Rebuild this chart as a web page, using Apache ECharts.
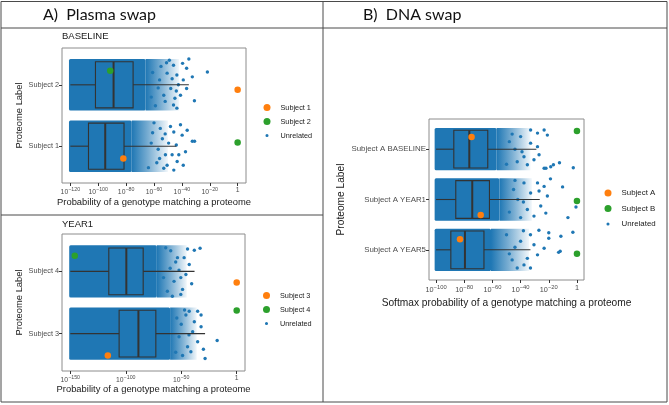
<!DOCTYPE html>
<html><head><meta charset="utf-8">
<script src="https://cdn.jsdelivr.net/npm/echarts@6/dist/echarts.min.js"></script>
<style>html,body{margin:0;padding:0;background:#fff}#c{width:669px;height:405px}</style>
</head><body><div id="c"></div>
<script>
// ---------- Panel A / BASELINE ----------
const a1Categories = ['Subject 1', 'Subject 2'];
const a1XTicks = [-120, -100, -80, -60, -40, -20, 0];
// [whiskerLow, Q1, median, Q3, whiskerHigh] (log10 probability)
const a1Box = [[-120, -107, -95, -81.5, -44], [-120, -102, -89, -75, -35]];
// unrelated cloud: [left, dense edge, fade edge]
const a1Cloud = [[-121, -76, -50], [-121, -66, -42]];
// sparse unrelated points: [log10 p, row + jitter]
const a1Tail = [
  [-41, 0.35], [-36.2, 0.26], [-32.5, 0.08], [-30.9, 0.08], [-39.8, 0.18], [-45.8, 0.23], [-47, -0.14],
  [-43.4, -0.25], [-50.6, -0.31], [-53, -0.36], [-48.2, 0.32], [-37.4, -0.09], [-49.5, 0.05], [-42.2, -0.14],
  [-55.5, 0.29], [-51.8, -0.14], [-45.8, -0.39], [-39, -0.31], [-57, -0.05], [-60, 0.38], [-54, 0.12],
  [-58, -0.27], [-52, 0.2], [-62, 0.05], [-64, -0.35], [-61, 0.22], [-56, -0.2], [-44, 0.02],
  [-35, 1.42], [-21.7, 1.21], [-31, 0.74], [-39.5, 1.35], [-46, 1.32], [-43.6, 1.16], [-48, 0.94],
  [-41, 0.83], [-46, 0.67], [-52, 0.73], [-39, 1.08], [-49, 1.4], [-36.6, 1.27], [-42.5, 1.0],
  [-32.5, 1.13], [-50.6, 1.19], [-53, 0.83], [-36.6, 0.94], [-43.6, 0.62], [-55, 1.3], [-57, 0.95],
  [-47, 1.1], [-59, 0.66], [-45, 0.78], [-61, 1.2], [-62, 0.8], [-56, 1.08], [-51, 1.36], [-44, 0.9]
];
const a1Subject1 = [[-82, -0.2], [0, 0.92]];
const a1Subject2 = [[0, 0.06], [-91.4, 1.23]];

// ---------- Panel A / YEAR1 ----------
const a2Categories = ['Subject 3', 'Subject 4'];
const a2XTicks = [-150, -100, -50, 0];
const a2Box = [[-150, -106, -88.6, -72.9, -28.5], [-150, -115.3, -99.5, -84.3, -38]];
const a2Cloud = [[-151, -60, -36], [-151, -72, -45]];
const a2Tail = [
  [-17.6, -0.11], [-28.5, -0.4], [-32.1, 0.3], [-35.2, 0.36], [-38.2, 0.19], [-41.3, -0.29], [-35.2, -0.13],
  [-44.3, -0.21], [-39.7, 0.03], [-45.8, 0.3], [-48.8, -0.35], [-32.1, 0.11], [-42.8, 0.36], [-30, -0.25],
  [-50, 0.15], [-52, -0.05], [-47, 0.38], [-55, -0.3], [-54, 0.25], [-43, -0.02],
  [-33, 1.37], [-38.2, 1.34], [-44.3, 1.36], [-40.6, 0.8], [-48.8, 0.71], [-45.8, 0.95], [-53.4, 1.22],
  [-42.8, 1.11], [-50.4, 0.63], [-56.5, 0.84], [-59.5, 1.33], [-47.4, 1.22], [-62.5, 0.68], [-50.4, 0.9],
  [-60, 1.05], [-55, 1.15], [-64, 1.38], [-66, 0.9], [-58, 0.6], [-52, 1.02]
];
const a2Subject3 = [[-116.2, -0.35], [0, 0.82]];
const a2Subject4 = [[0, 0.37], [-146, 1.25]];

// ---------- Panel B / DNA swap ----------
const bCategories = ['Subject A YEAR5', 'Subject A YEAR1', 'Subject A BASELINE'];
const bXTicks = [-100, -80, -60, -40, -20, 0];
const bBox = [[-100, -89.5, -79.5, -66, -33], [-100, -86, -74.3, -62.1, -26.4], [-100, -87.4, -76.4, -63.3, -28.8]];
const bCloud = [[-101, -61, -34], [-101, -55, -32], [-101, -57, -33]];
const bTail = [
  [-27, 0.39], [-20, 0.34], [-11.4, 0.27], [-2.9, 0.35], [-13, -0.05], [-20, 0.23], [-33, 0.3], [-30.5, 0.1],
  [-35.2, -0.17], [-28, -0.1], [-37.6, -0.3], [-33, -0.36], [-40, 0.17], [-23.3, 0.03], [-42.4, -0.36], [-11.9, -0.03],
  [-44, 0.05], [-46, -0.2], [-38, 0.38], [-50, 0.3], [-48, -0.08],
  [-10.2, 1.25], [-0.7, 0.85], [-6.4, 0.64], [-18.8, 1.41], [-23.3, 1.26], [-21, 1.07], [-25.7, 0.87], [-22.1, 0.73],
  [-28, 1.33], [-30.5, 0.67], [-32.9, 1.13], [-37.6, 1.33], [-35.2, 0.8], [-40, 0.64], [-26.9, 1.17],
  [-42, 1.0], [-45, 1.2], [-38, 0.95], [-48, 0.75], [-44, 1.38],
  [-18.6, 1.65], [-12.4, 1.73], [-2.6, 1.63], [-23.3, 1.62], [-21, 2.28], [-23.3, 2.38], [-28, 2.32], [-32.9, 2.38],
  [-26.9, 1.89], [-30.5, 1.79], [-32.9, 2.12], [-37.6, 1.85], [-28, 2.05], [-35.2, 1.69], [-40, 2.25], [-42.4, 1.75],
  [-22, 1.62], [-16.7, 1.69], [-44, 2.0], [-46, 2.3], [-39, 1.95], [-50, 1.7], [-48, 2.15]
];
const bSubjectA = [[-83, 0.21], [-68.3, 0.69], [-74.8, 2.24]];
const bSubjectB = [[0, -0.08], [0, 0.97], [0, 2.36]];

// ---------- drawing ----------
const BLUE = '#1f77b4', ORANGE = '#ff7f0e', GREEN = '#2ca02c';
const FONT = '"Liberation Sans", Arial, sans-serif';
const smallDot = 'path://M0,0M10,10M5,2.8A2.2,2.2,0,1,1,5,7.2A2.2,2.2,0,1,1,5,2.8Z';

function renderCloud(params, api) {
  const y = api.value(0), l = api.value(1), d = api.value(2), f = api.value(3);
  const p0 = api.coord([l, y + 0.42]), p1 = api.coord([d, y - 0.42]), p2 = api.coord([f, y - 0.42]);
  return { type: 'group', children: [
    { type: 'rect', shape: { x: p0[0], y: p0[1], width: p1[0] - p0[0], height: p1[1] - p0[1], r: 1.5 }, style: { fill: BLUE } },
    { type: 'rect', shape: { x: p1[0], y: p0[1], width: p2[0] - p1[0], height: p1[1] - p0[1] },
      style: { fill: { type: 'linear', x: 0, y: 0, x2: 1, y2: 0, colorStops: [
        { offset: 0, color: BLUE }, { offset: 0.45, color: 'rgba(31,119,180,0.6)' }, { offset: 1, color: 'rgba(31,119,180,0.06)' }] } } }
  ] };
}
function renderBox(params, api) {
  const y = api.value(0), lo = api.value(1), q1 = api.value(2), md = api.value(3), q3 = api.value(4), hi = api.value(5);
  const h = 0.375;
  const a = api.coord([q1, y + h]), b = api.coord([q3, y - h]);
  const m0 = api.coord([md, y + h]), m1 = api.coord([md, y - h]);
  const w0 = api.coord([lo, y]), w1 = api.coord([q1, y]), w2 = api.coord([q3, y]), w3 = api.coord([hi, y]);
  return { type: 'group', children: [
    { type: 'line', shape: { x1: w0[0], y1: w0[1], x2: w1[0], y2: w1[1] }, style: { stroke: '#333333', lineWidth: 1.1 } },
    { type: 'line', shape: { x1: w2[0], y1: w2[1], x2: w3[0], y2: w3[1] }, style: { stroke: '#333333', lineWidth: 1.1 } },
    { type: 'rect', shape: { x: a[0], y: a[1], width: b[0] - a[0], height: b[1] - a[1] }, style: { stroke: '#333333', fill: 'none', lineWidth: 1.1 } },
    { type: 'line', shape: { x1: m0[0], y1: m0[1], x2: m1[0], y2: m1[1] }, style: { stroke: '#333333', lineWidth: 2 } }
  ] };
}

function xAxisFor(idx, min, max, ticks, name, gap, fs, tfs) {
  return {
    type: 'value', gridIndex: idx, min: min, max: max,
    axisLine: { show: false, onZero: false }, splitLine: { show: false },
    axisTick: { show: true, length: 3, lineStyle: { color: '#333' }, customValues: ticks },
    axisLabel: { customValues: ticks, margin: 4,
      formatter: v => v === 0 ? '{b|1}' : '{b|10}{s|\u2212' + (-v) + '}',
      rich: { b: { fontSize: tfs, color: '#4d4d4d', fontFamily: FONT, verticalAlign: 'bottom' },
              s: { fontSize: tfs - 1.5, color: '#4d4d4d', fontFamily: FONT, verticalAlign: 'bottom', padding: [0, 0, 3.5, 0] } } },
    name: name, nameLocation: 'middle', nameGap: gap,
    nameTextStyle: { fontSize: fs, color: '#1a1a1a', fontFamily: FONT }
  };
}
function yAxisFor(idx, cats, gap, fs, lfs) {
  const vals = cats.map((c, i) => i);
  return {
    type: 'value', gridIndex: idx, min: -0.6, max: cats.length - 0.4,
    axisLine: { show: false, onZero: false }, splitLine: { show: false },
    axisTick: { show: true, length: 3, lineStyle: { color: '#333' }, customValues: vals },
    axisLabel: { customValues: vals, margin: 3, formatter: v => cats[Math.round(v)],
      fontSize: lfs, color: '#4d4d4d', fontFamily: FONT },
    name: 'Proteome Label', nameLocation: 'middle', nameGap: gap, nameRotate: 90,
    nameTextStyle: { fontSize: fs, color: '#1a1a1a', fontFamily: FONT }
  };
}
function panelSeries(idx, box, cloud, tail, s1name, s1, s1col, s2name, s2, s2col) {
  return [
    { type: 'custom', xAxisIndex: idx, yAxisIndex: idx, silent: true, z: 1, renderItem: renderCloud,
      data: cloud.map((c, i) => [i, c[0], c[1], c[2]]), encode: { x: [1, 2, 3], y: 0 } },
    { type: 'scatter', name: 'Unrelated', xAxisIndex: idx, yAxisIndex: idx, z: 2, symbolSize: 3.4,
      itemStyle: { color: BLUE, opacity: 1 }, data: tail, silent: true },
    { type: 'custom', xAxisIndex: idx, yAxisIndex: idx, silent: true, z: 3, renderItem: renderBox,
      data: box.map((b, i) => [i, b[0], b[1], b[2], b[3], b[4]]), encode: { x: [1, 2, 3, 4, 5], y: 0 } },
    { type: 'scatter', name: s1name, xAxisIndex: idx, yAxisIndex: idx, z: 4, symbolSize: 6.5,
      itemStyle: { color: s1col, opacity: 1 }, data: s1 },
    { type: 'scatter', name: s2name, xAxisIndex: idx, yAxisIndex: idx, z: 4, symbolSize: 6.5,
      itemStyle: { color: s2col, opacity: 1 }, data: s2 }
  ];
}
function legendFor(left, top, names, fs, gap) {
  return { orient: 'vertical', left: left, top: top, itemWidth: 7, itemHeight: 7, itemGap: gap, selectedMode: false,
    textStyle: { fontSize: fs, color: '#1a1a1a', fontFamily: FONT, padding: [0, 0, 0, 5] },
    data: [{ name: names[0], icon: 'circle' }, { name: names[1], icon: 'circle' }, { name: 'Unrelated', icon: smallDot }] };
}
function hline(x1, x2, y) { return { type: 'line', silent: true, shape: { x1: x1, y1: y, x2: x2, y2: y }, style: { stroke: '#4a4a4a', lineWidth: 1 } }; }
function vline(x, y1, y2) { return { type: 'line', silent: true, shape: { x1: x, y1: y1, x2: x, y2: y2 }, style: { stroke: '#4a4a4a', lineWidth: 1 } }; }

const chart = echarts.init(document.getElementById('c'), null, { renderer: 'canvas' });
chart.setOption({
  backgroundColor: '#fff',
  animation: false,
  title: [
    { text: 'A)  Plasma swap', left: 38, top: 2, textStyle: { fontSize: 16, fontWeight: 'normal', color: '#111', fontFamily: 'Lato, "Open Sans", sans-serif' } },
    { text: 'B)  DNA swap', left: 358, top: 2, textStyle: { fontSize: 16, fontWeight: 'normal', color: '#111', fontFamily: 'Lato, "Open Sans", sans-serif' } },
    { text: 'BASELINE', left: 57, top: 26, textStyle: { fontSize: 9.5, fontWeight: 'normal', color: '#1a1a1a', fontFamily: FONT } },
    { text: 'YEAR1', left: 57, top: 214, textStyle: { fontSize: 9.5, fontWeight: 'normal', color: '#1a1a1a', fontFamily: FONT } }
  ],
  grid: [
    { left: 62, top: 48, width: 184, height: 135, show: true, borderColor: '#8c8c8c', borderWidth: 1, backgroundColor: '#fff' },
    { left: 62, top: 234, width: 183, height: 137, show: true, borderColor: '#8c8c8c', borderWidth: 1, backgroundColor: '#fff' },
    { left: 429, top: 119, width: 155, height: 161, show: true, borderColor: '#8c8c8c', borderWidth: 1, backgroundColor: '#fff' }
  ],
  xAxis: [
    xAxisFor(0, -126, 6, a1XTicks, 'Probability of a genotype matching a proteome', 15, 9.4, 6.8),
    xAxisFor(1, -157.5, 7.5, a2XTicks, 'Probability of a genotype matching a proteome', 14, 9.4, 6.8),
    xAxisFor(2, -105, 5, bXTicks, 'Softmax probability of a genotype matching a proteome', 18, 10.2, 7.3)
  ],
  yAxis: [
    yAxisFor(0, a1Categories, 38, 9.4, 7.3),
    yAxisFor(1, a2Categories, 38, 9.4, 7.3),
    yAxisFor(2, bCategories, 83, 10.2, 7.9)
  ],
  legend: [
    legendFor(258.5, 99, ['Subject 1', 'Subject 2'], 7.3, 7),
    legendFor(258, 287, ['Subject 3', 'Subject 4'], 7.3, 7),
    legendFor(599.5, 184, ['Subject A', 'Subject B'], 7.9, 7.5)
  ],
  series: [].concat(
    panelSeries(0, a1Box, a1Cloud, a1Tail, 'Subject 1', a1Subject1, ORANGE, 'Subject 2', a1Subject2, GREEN),
    panelSeries(1, a2Box, a2Cloud, a2Tail, 'Subject 3', a2Subject3, ORANGE, 'Subject 4', a2Subject4, GREEN),
    panelSeries(2, bBox, bCloud, bTail, 'Subject A', bSubjectA, ORANGE, 'Subject B', bSubjectB, GREEN)
  ),
  graphic: [
    hline(1, 667, 1.5), hline(1, 667, 402), vline(1, 1.5, 402), vline(667, 1.5, 402),
    hline(1, 667, 28), vline(323, 1.5, 402), hline(1, 323, 215)
  ]
});
</script></body></html>
